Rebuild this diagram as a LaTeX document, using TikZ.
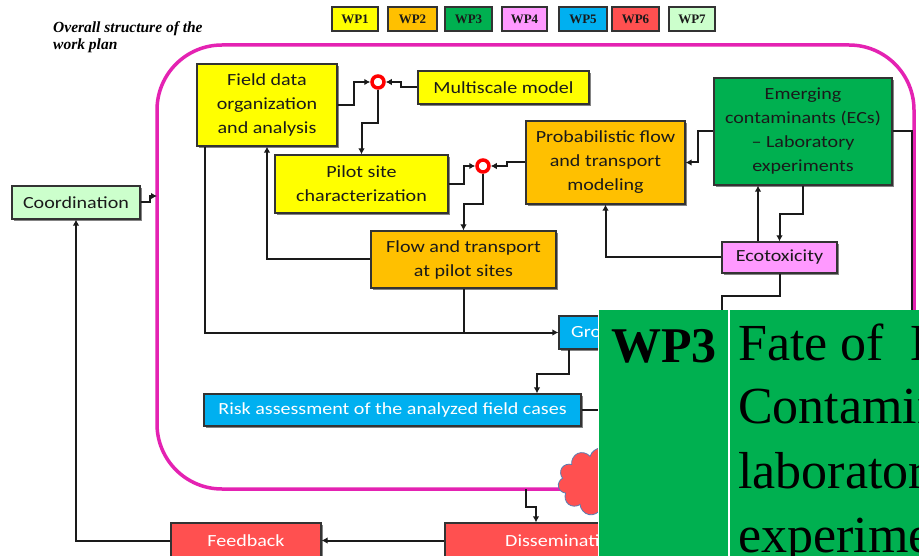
\documentclass[tikz,border=0pt]{standalone}
\usepackage{fontspec}
\setmainfont{Liberation Serif}
\newfontfamily\boxfont[FakeStretch=1.18]{Carlito}
\usetikzlibrary{shapes.symbols,shadows,arrows.meta,calc}

\definecolor{wpyellow}{HTML}{FFFF00}
\definecolor{wporange}{HTML}{FFC000}
\definecolor{wpgreen}{HTML}{00B050}
\definecolor{wppink}{HTML}{FF99FF}
\definecolor{wpblue}{HTML}{00B0F0}
\definecolor{wpred}{HTML}{FF5050}
\definecolor{wplight}{HTML}{CCFFCC}
\definecolor{framepink}{RGB}{228,34,178}
\definecolor{ink}{HTML}{1A1A1A}
\definecolor{cloudedge}{HTML}{5B7DB1}

\tikzset{
  box/.style={draw=black!80, line width=1.2pt, inner sep=0pt, align=center, text=ink,
    font={\boxfont\fontsize{17}{24}\selectfont},
    drop shadow={shadow xshift=1.6pt, shadow yshift=-1.6pt, fill=black!60, opacity=0.8}},
  wpkey/.style={draw=black!80, line width=1.3pt, inner sep=0pt, text=ink,
    minimum height=24, font={\bfseries\fontsize{13}{14}\selectfont},
    drop shadow={shadow xshift=1.4pt, shadow yshift=-1.4pt, fill=black!60, opacity=0.8}},
  junction/.style={circle, draw=red, line width=3.5pt, fill=white, minimum size=12, inner sep=0pt},
  conn/.style={draw=ink, line width=2pt},
  arr/.style={conn, -{Latex[length=6pt,width=6.5pt]}},
  lbl/.style={inner sep=0pt, font={\boxfont\fontsize{17}{24}\selectfont}},
}

\begin{document}
\begin{tikzpicture}[x=1pt,y=-1pt]
\useasboundingbox (0,0) rectangle (919,556);
\clip (0,0) rectangle (919,556);
\fill[white] (0,0) rectangle (919,556);

% heading
\node[anchor=base west, inner sep=0pt, font={\bfseries\itshape\fontsize{15.5}{17}\selectfont}] (title1) at (53,33) {Overall structure of the};
\node[anchor=base west, inner sep=0pt, font={\bfseries\itshape\fontsize{15.5}{17}\selectfont}] (title2) at (53,50) {work plan};

% work package legend
\node[wpkey, fill=wpyellow, minimum width=46] (k1) at (355,19) {WP1};
\node[wpkey, fill=wporange, minimum width=49] (k2) at (412.5,19) {WP2};
\node[wpkey, fill=wpgreen,  minimum width=47] (k3) at (468.5,19) {WP3};
\node[wpkey, fill=wppink,   minimum width=45] (k4) at (524.5,19) {WP4};
\node[wpkey, fill=wpblue,   minimum width=48] (k5) at (583,19) {WP5};
\node[wpkey, fill=wpred,    minimum width=47] (k6) at (635.5,19) {WP6};
\node[wpkey, fill=wplight,  minimum width=46] (k7) at (692,19) {WP7};

% rounded frame around the research work packages
\draw[framepink, line width=3.5pt, rounded corners=65pt] (157,45) rectangle (914,489);
\coordinate (magL) at (157,196);
\coordinate (magB) at (526,489);

% boxes
\node[box, fill=wpyellow, minimum width=140, minimum height=82] (field) at (267,105) {Field data\\organization\\and analysis};
\node[box, fill=wpyellow, minimum width=171, minimum height=33] (multi) at (503.5,87.5) {Multiscale model};
\node[box, fill=wpyellow, minimum width=173, minimum height=58] (pilot) at (361.5,184) {Pilot site\\characterization};
\node[box, fill=wporange, minimum width=159, minimum height=83] (prob) at (605.5,162.5) {Probabilistic flow\\and transport\\modeling};
\node[box, fill=wpgreen, minimum width=178, minimum height=107] (ecs) at (803,131.5) {Emerging\\contaminants (ECs)\\– Laboratory\\experiments};
\node[box, fill=wppink, minimum width=115, minimum height=31] (ecotox) at (779.5,257.5) {Ecotoxicity};
\node[box, fill=wporange, minimum width=185, minimum height=57] (flow) at (463.5,259.5) {Flow and transport\\at pilot sites};
\node[box, fill=wpblue, minimum width=120, minimum height=33] (gro) at (619,332.5) {};
\node[lbl, anchor=west, text=white] (grotext) at (571,332.5) {Gro};
\node[box, fill=wpblue, text=white, minimum width=377, minimum height=32] (risk) at (392.5,410) {Risk assessment of the analyzed field cases};
\node[box, fill=wplight, minimum width=128, minimum height=33] (coord) at (76,202.5) {Coordination};
\node[box, fill=wpred, text=white, minimum width=150, minimum height=35] (feedback) at (246,540.5) {Feedback};
\node[box, fill=wpred, minimum width=200, minimum height=35] (dissem) at (545,540.5) {};
\node[lbl, anchor=west, text=white] (dissemtext) at (505,540.5) {Dissemination};

% junctions
\node[junction] (j1) at (378,82) {};
\node[junction] (j2) at (483,166) {};

% connectors
\draw[arr] (field.east) -- ++(16,0) |- (j1.west);
\draw[arr] (multi.west) -- ++(-16,0) |- (j1.east);
\draw[arr] (j1.south) -- ++(0,33.5) -| (pilot.north);
\draw[arr] (pilot.east) -- ++(15,0) |- (j2.west);
\draw[arr] (prob.west) -- ++(-18,0) |- (j2.east);
\draw[arr] (j2.south) -- ++(0,30) -| (flow.north);
\draw[arr] (ecs.west) -- ++(-15,0) |- (prob.east);
\draw[arr] ([xshift=-21.5pt]ecotox.north) -- ([xshift=-21.5pt]ecotox.north |- ecs.south);
\draw[arr] (ecs.south) -- ++(0,28) -| (ecotox.north);
\draw[arr] (ecotox.west) -| (prob.south);
\draw[conn] (ecs.east) -- ++(19,0) -- ++(0,230);
\draw[conn] (ecotox.south) -- ++(0,22.5) -| ++(-57.5,40);
\draw[arr] ([xshift=-62pt]field.south) |- (gro.west);
\draw[conn] (flow.south) -- (flow.south |- gro.west);
\draw[arr] (flow.west) -| (field.south);
\draw[arr] ([xshift=-50pt]gro.south) -- ++(0,24) -| ([xshift=144.5pt]risk.north);
\draw[conn] (risk.east) -- ++(25,0);
\draw[arr] (coord.east) -- ++(9,0) |- (magL);
\draw[arr] (feedback.west) -| (coord.south);
\draw[arr] (dissem.west) -- (feedback.east);
\draw[arr] (magB) -- ++(0,18) -| ([xshift=-9pt]dissem.north);

% cloud
\node[cloud, cloud puffs=11, aspect=1.25, draw=cloudedge, line width=0.8pt, fill=wpred,
      minimum width=86, minimum height=68, inner sep=0pt] (cloud) at (601,482) {};

% work package 3 panel
\fill[wpgreen] (599,310) rectangle (930,570);
\draw[white, line width=1.5pt] (729,310) -- (729,570);
\draw[white, line width=1pt] (598.5,310) -- (598.5,570);
\node[anchor=base west, inner sep=0pt, font={\bfseries\fontsize{50}{50}\selectfont}] (wpthree) at (611,362) {WP3};
\node[anchor=base west, inner sep=0pt, font={\fontsize{52}{64}\selectfont}] (fate1) at (738,360) {Fate of~~Emerging};
\node[anchor=base west, inner sep=0pt, font={\fontsize{52}{64}\selectfont}] (fate2) at (738,423) {Contaminants};
\node[anchor=base west, inner sep=0pt, font={\fontsize{52}{64}\selectfont}] (fate3) at (738,488) {laboratory};
\node[anchor=base west, inner sep=0pt, font={\fontsize{52}{64}\selectfont}] (fate4) at (738,552) {experiments};
\end{tikzpicture}
\end{document}
